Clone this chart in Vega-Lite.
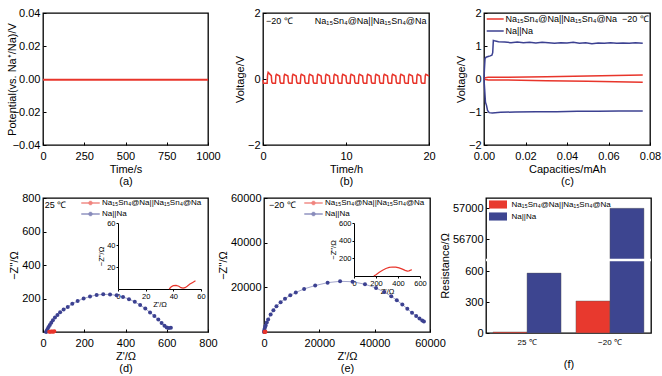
{
  "$schema": "https://vega.github.io/schema/vega-lite/v6.json",
  "padding": {"left": 5, "top": 6, "right": 5, "bottom": 5},
  "background": "white",
  "spacing": 4,
  "resolve": {"scale": {"color": "independent"}, "legend": {"color": "independent"}},
  "vconcat": [
    {
      "bounds": "flush",
      "spacing": 55,
      "resolve": {"scale": {"color": "independent"}, "legend": {"color": "independent"}},
      "hconcat": [
        {
          "width": 165,
          "height": 132,
          "data": {"values": [{"t": 0, "p": -0.0004}, {"t": 500, "p": -0.0004}, {"t": 1000, "p": -0.0004}]},
          "mark": {"type": "line", "color": "#e8352b", "strokeWidth": 2},
          "encoding": {
            "x": {"field": "t", "type": "quantitative", "scale": {"domain": [0, 1000], "nice": false}, "axis": {"values": [0, 250, 500, 750, 1000], "format": "d", "title": ["Time/s", "(a)"]}},
            "y": {"field": "p", "type": "quantitative", "scale": {"domain": [-0.04, 0.04], "nice": false, "zero": false}, "axis": {"values": [-0.04, -0.02, 0, 0.02, 0.04], "format": ".2f", "title": "Potential(vs. Na⁺/Na)/V", "titlePadding": -5}}
          }
        },
        {
          "width": 166,
          "height": 132,
          "layer": [
            {
              "data": {"values": [
                {"t": 0, "v": -0.03}, {"t": 0.06, "v": -0.13},
                {"t": 0.5, "v": -0.13}, {"t": 0.55, "v": 0.12}, {"t": 0.62, "v": 0.2}, {"t": 1.0, "v": 0.1}, {"t": 1.06, "v": -0.09}, {"t": 1.15, "v": -0.13},
                {"t": 1.5, "v": -0.13}, {"t": 1.55, "v": 0.1}, {"t": 1.62, "v": 0.14}, {"t": 2.0, "v": 0.09}, {"t": 2.06, "v": -0.09}, {"t": 2.15, "v": -0.13},
                {"t": 2.5, "v": -0.13}, {"t": 2.55, "v": 0.1}, {"t": 2.62, "v": 0.14}, {"t": 3.0, "v": 0.09}, {"t": 3.06, "v": -0.09}, {"t": 3.15, "v": -0.13},
                {"t": 3.5, "v": -0.13}, {"t": 3.55, "v": 0.1}, {"t": 3.62, "v": 0.14}, {"t": 4.0, "v": 0.09}, {"t": 4.06, "v": -0.09}, {"t": 4.15, "v": -0.13},
                {"t": 4.5, "v": -0.13}, {"t": 4.55, "v": 0.1}, {"t": 4.62, "v": 0.14}, {"t": 5.0, "v": 0.09}, {"t": 5.06, "v": -0.09}, {"t": 5.15, "v": -0.13},
                {"t": 5.5, "v": -0.13}, {"t": 5.55, "v": 0.1}, {"t": 5.62, "v": 0.14}, {"t": 6.0, "v": 0.09}, {"t": 6.06, "v": -0.09}, {"t": 6.15, "v": -0.13},
                {"t": 6.5, "v": -0.13}, {"t": 6.55, "v": 0.1}, {"t": 6.62, "v": 0.14}, {"t": 7.0, "v": 0.09}, {"t": 7.06, "v": -0.09}, {"t": 7.15, "v": -0.13},
                {"t": 7.5, "v": -0.13}, {"t": 7.55, "v": 0.1}, {"t": 7.62, "v": 0.14}, {"t": 8.0, "v": 0.09}, {"t": 8.06, "v": -0.09}, {"t": 8.15, "v": -0.13},
                {"t": 8.5, "v": -0.13}, {"t": 8.55, "v": 0.1}, {"t": 8.62, "v": 0.14}, {"t": 9.0, "v": 0.09}, {"t": 9.06, "v": -0.09}, {"t": 9.15, "v": -0.13},
                {"t": 9.5, "v": -0.13}, {"t": 9.55, "v": 0.1}, {"t": 9.62, "v": 0.14}, {"t": 10.0, "v": 0.09}, {"t": 10.06, "v": -0.09}, {"t": 10.15, "v": -0.13},
                {"t": 10.5, "v": -0.13}, {"t": 10.55, "v": 0.1}, {"t": 10.62, "v": 0.14}, {"t": 11.0, "v": 0.09}, {"t": 11.06, "v": -0.09}, {"t": 11.15, "v": -0.13},
                {"t": 11.5, "v": -0.13}, {"t": 11.55, "v": 0.1}, {"t": 11.62, "v": 0.14}, {"t": 12.0, "v": 0.09}, {"t": 12.06, "v": -0.09}, {"t": 12.15, "v": -0.13},
                {"t": 12.5, "v": -0.13}, {"t": 12.55, "v": 0.1}, {"t": 12.62, "v": 0.14}, {"t": 13.0, "v": 0.09}, {"t": 13.06, "v": -0.09}, {"t": 13.15, "v": -0.13},
                {"t": 13.5, "v": -0.13}, {"t": 13.55, "v": 0.1}, {"t": 13.62, "v": 0.14}, {"t": 14.0, "v": 0.09}, {"t": 14.06, "v": -0.09}, {"t": 14.15, "v": -0.13},
                {"t": 14.5, "v": -0.13}, {"t": 14.55, "v": 0.1}, {"t": 14.62, "v": 0.14}, {"t": 15.0, "v": 0.09}, {"t": 15.06, "v": -0.09}, {"t": 15.15, "v": -0.13},
                {"t": 15.5, "v": -0.13}, {"t": 15.55, "v": 0.1}, {"t": 15.62, "v": 0.14}, {"t": 16.0, "v": 0.09}, {"t": 16.06, "v": -0.09}, {"t": 16.15, "v": -0.13},
                {"t": 16.5, "v": -0.13}, {"t": 16.55, "v": 0.1}, {"t": 16.62, "v": 0.14}, {"t": 17.0, "v": 0.09}, {"t": 17.06, "v": -0.09}, {"t": 17.15, "v": -0.13},
                {"t": 17.5, "v": -0.13}, {"t": 17.55, "v": 0.1}, {"t": 17.62, "v": 0.14}, {"t": 18.0, "v": 0.09}, {"t": 18.06, "v": -0.09}, {"t": 18.15, "v": -0.13},
                {"t": 18.5, "v": -0.13}, {"t": 18.55, "v": 0.1}, {"t": 18.62, "v": 0.14}, {"t": 19.0, "v": 0.09}, {"t": 19.06, "v": -0.09}, {"t": 19.15, "v": -0.13},
                {"t": 19.5, "v": -0.13}, {"t": 19.55, "v": 0.1}, {"t": 19.62, "v": 0.14}, {"t": 20.0, "v": 0.09}
              ]},
              "mark": {"type": "line", "color": "#e8352b", "strokeWidth": 1.5},
              "encoding": {
                "x": {"field": "t", "type": "quantitative", "scale": {"domain": [0, 20], "nice": false}, "axis": {"values": [0, 10, 20], "title": ["Time/h", "(b)"]}},
                "y": {"field": "v", "type": "quantitative", "scale": {"domain": [-2, 2], "nice": false, "zero": false}, "axis": {"values": [-2, -1, 0, 1, 2], "title": "Voltage/V"}}
              }
            },
            {
              "data": {"values": [{}]},
              "mark": {"type": "text", "align": "left", "baseline": "middle", "fontSize": 9, "font": "Liberation Sans", "color": "black"},
              "encoding": {"x": {"datum": 0.35}, "y": {"datum": 1.76}, "text": {"value": "−20 ℃"}}
            },
            {
              "data": {"values": [{}]},
              "mark": {"type": "text", "align": "right", "baseline": "middle", "fontSize": 9, "font": "Liberation Sans", "color": "black"},
              "encoding": {"x": {"datum": 19.7}, "y": {"datum": 1.76}, "text": {"value": "Na₁₅Sn₄@Na||Na₁₅Sn₄@Na"}}
            }
          ]
        },
        {
          "width": 166,
          "height": 132,
          "data": {"values": [
            {"c": 0, "v": 0.03, "s": "A", "g": "r1"}, {"c": 0.002, "v": 0.05, "s": "A", "g": "r1"}, {"c": 0.01, "v": 0.05, "s": "A", "g": "r1"}, {"c": 0.03, "v": 0.07, "s": "A", "g": "r1"}, {"c": 0.05, "v": 0.09, "s": "A", "g": "r1"}, {"c": 0.0765, "v": 0.12, "s": "A", "g": "r1"},
            {"c": 0, "v": -0.01, "s": "A", "g": "r2"}, {"c": 0.002, "v": -0.03, "s": "A", "g": "r2"}, {"c": 0.01, "v": -0.03, "s": "A", "g": "r2"}, {"c": 0.03, "v": -0.05, "s": "A", "g": "r2"}, {"c": 0.05, "v": -0.07, "s": "A", "g": "r2"}, {"c": 0.0765, "v": -0.1, "s": "A", "g": "r2"},
            {"c": 0, "v": 0, "s": "B", "g": "b1"}, {"c": 0.0002, "v": 0.3, "s": "B", "g": "b1"}, {"c": 0.0005, "v": 0.62, "s": "B", "g": "b1"}, {"c": 0.001, "v": 0.66, "s": "B", "g": "b1"}, {"c": 0.002, "v": 0.68, "s": "B", "g": "b1"}, {"c": 0.003, "v": 0.7, "s": "B", "g": "b1"}, {"c": 0.0038, "v": 0.72, "s": "B", "g": "b1"}, {"c": 0.0042, "v": 0.8, "s": "B", "g": "b1"}, {"c": 0.0045, "v": 1.17, "s": "B", "g": "b1"}, {"c": 0.005, "v": 1.16, "s": "B", "g": "b1"}, {"c": 0.007, "v": 1.13, "s": "B", "g": "b1"}, {"c": 0.01, "v": 1.12, "s": "B", "g": "b1"}, {"c": 0.013, "v": 1.1, "s": "B", "g": "b1"}, {"c": 0.016, "v": 1.12, "s": "B", "g": "b1"}, {"c": 0.019, "v": 1.1, "s": "B", "g": "b1"}, {"c": 0.022, "v": 1.11, "s": "B", "g": "b1"}, {"c": 0.025, "v": 1.09, "s": "B", "g": "b1"}, {"c": 0.028, "v": 1.11, "s": "B", "g": "b1"}, {"c": 0.031, "v": 1.1, "s": "B", "g": "b1"}, {"c": 0.034, "v": 1.08, "s": "B", "g": "b1"}, {"c": 0.037, "v": 1.1, "s": "B", "g": "b1"}, {"c": 0.04, "v": 1.09, "s": "B", "g": "b1"}, {"c": 0.043, "v": 1.11, "s": "B", "g": "b1"}, {"c": 0.046, "v": 1.08, "s": "B", "g": "b1"}, {"c": 0.049, "v": 1.1, "s": "B", "g": "b1"}, {"c": 0.052, "v": 1.07, "s": "B", "g": "b1"}, {"c": 0.055, "v": 1.09, "s": "B", "g": "b1"}, {"c": 0.058, "v": 1.08, "s": "B", "g": "b1"}, {"c": 0.061, "v": 1.1, "s": "B", "g": "b1"}, {"c": 0.064, "v": 1.08, "s": "B", "g": "b1"}, {"c": 0.067, "v": 1.09, "s": "B", "g": "b1"}, {"c": 0.07, "v": 1.08, "s": "B", "g": "b1"}, {"c": 0.073, "v": 1.1, "s": "B", "g": "b1"}, {"c": 0.0765, "v": 1.08, "s": "B", "g": "b1"},
            {"c": 0, "v": 0, "s": "B", "g": "b2"}, {"c": 0.0003, "v": -0.3, "s": "B", "g": "b2"}, {"c": 0.0007, "v": -0.7, "s": "B", "g": "b2"}, {"c": 0.0012, "v": -0.8, "s": "B", "g": "b2"}, {"c": 0.0017, "v": -0.95, "s": "B", "g": "b2"}, {"c": 0.0025, "v": -1.02, "s": "B", "g": "b2"}, {"c": 0.004, "v": -1.03, "s": "B", "g": "b2"}, {"c": 0.008, "v": -1.01, "s": "B", "g": "b2"}, {"c": 0.015, "v": -1.0, "s": "B", "g": "b2"}, {"c": 0.025, "v": -0.99, "s": "B", "g": "b2"}, {"c": 0.035, "v": -0.99, "s": "B", "g": "b2"}, {"c": 0.045, "v": -0.98, "s": "B", "g": "b2"}, {"c": 0.055, "v": -0.98, "s": "B", "g": "b2"}, {"c": 0.065, "v": -0.97, "s": "B", "g": "b2"}, {"c": 0.0765, "v": -0.97, "s": "B", "g": "b2"}
          ]},
          "mark": {"type": "line", "strokeWidth": 1.5},
          "encoding": {
            "x": {"field": "c", "type": "quantitative", "scale": {"domain": [0, 0.08], "nice": false}, "axis": {"values": [0, 0.02, 0.04, 0.06, 0.08], "format": ".2f", "title": ["Capacities/mAh", "(c)"]}},
            "y": {"field": "v", "type": "quantitative", "scale": {"domain": [-2, 2], "nice": false, "zero": false}, "axis": {"values": [-2, -1, 0, 1, 2], "title": "Voltage/V"}},
            "detail": {"field": "g"},
            "color": {"field": "s", "type": "nominal", "scale": {"domain": ["A", "B"], "range": ["#e8352b", "#3c4191"]},
              "legend": {"orient": "none", "legendX": 6.2, "legendY": 1, "title": null, "symbolType": "M-2,0H2", "symbolSize": 72, "symbolStrokeWidth": 1.5, "labelFontSize": 9, "rowPadding": 2, "labelOffset": 5.2,
                "labelExpr": "datum.value == 'A' ? 'Na₁₅Sn₄@Na||Na₁₅Sn₄@Na\u00a0\u00a0−20 ℃' : 'Na||Na'"}}
          }
        }
      ]
    },
    {
      "bounds": "flush",
      "spacing": 56,
      "resolve": {"scale": {"color": "independent"}, "legend": {"color": "independent"}},
      "hconcat": [
        {
          "width": 165,
          "height": 134,
          "layer": [
            {
              "data": {"values": [
                {"zr": 15, "zi": 0, "s": "Na||Na"}, {"zr": 18, "zi": 8, "s": "Na||Na"}, {"zr": 22, "zi": 18, "s": "Na||Na"}, {"zr": 27, "zi": 30, "s": "Na||Na"}, {"zr": 33, "zi": 42, "s": "Na||Na"}, {"zr": 40, "zi": 55, "s": "Na||Na"}, {"zr": 48, "zi": 70, "s": "Na||Na"}, {"zr": 58, "zi": 86, "s": "Na||Na"}, {"zr": 70, "zi": 102, "s": "Na||Na"}, {"zr": 83, "zi": 118, "s": "Na||Na"}, {"zr": 100, "zi": 134, "s": "Na||Na"}, {"zr": 120, "zi": 150, "s": "Na||Na"}, {"zr": 142, "zi": 168, "s": "Na||Na"}, {"zr": 168, "zi": 185, "s": "Na||Na"}, {"zr": 197, "zi": 200, "s": "Na||Na"}, {"zr": 228, "zi": 212, "s": "Na||Na"}, {"zr": 260, "zi": 221, "s": "Na||Na"}, {"zr": 292, "zi": 225, "s": "Na||Na"}, {"zr": 325, "zi": 224, "s": "Na||Na"}, {"zr": 357, "zi": 219, "s": "Na||Na"}, {"zr": 388, "zi": 209, "s": "Na||Na"}, {"zr": 417, "zi": 196, "s": "Na||Na"}, {"zr": 445, "zi": 180, "s": "Na||Na"}, {"zr": 471, "zi": 161, "s": "Na||Na"}, {"zr": 496, "zi": 140, "s": "Na||Na"}, {"zr": 519, "zi": 117, "s": "Na||Na"}, {"zr": 540, "zi": 95, "s": "Na||Na"}, {"zr": 559, "zi": 74, "s": "Na||Na"}, {"zr": 575, "zi": 54, "s": "Na||Na"}, {"zr": 589, "zi": 37, "s": "Na||Na"}, {"zr": 600, "zi": 27, "s": "Na||Na"}, {"zr": 610, "zi": 24, "s": "Na||Na"}, {"zr": 620, "zi": 26, "s": "Na||Na"},
                {"zr": 30, "zi": 1, "s": "Na15"}, {"zr": 35, "zi": 2, "s": "Na15"}, {"zr": 40, "zi": 3, "s": "Na15"}, {"zr": 45, "zi": 3, "s": "Na15"}, {"zr": 50, "zi": 2, "s": "Na15"}, {"zr": 55, "zi": 5, "s": "Na15"}
              ]},
              "encoding": {
                "x": {"field": "zr", "type": "quantitative", "scale": {"domain": [0, 800], "nice": false}, "axis": {"values": [0, 200, 400, 600, 800], "title": ["Z'/Ω", "(d)"]}},
                "y": {"field": "zi", "type": "quantitative", "scale": {"domain": [0, 800], "nice": false}, "axis": {"values": [200, 400, 600, 800], "title": "−Z''/Ω"}}
              },
              "layer": [
                {"mark": {"type": "line", "strokeWidth": 0.8, "opacity": 0.6},
                 "encoding": {"color": {"field": "s", "type": "nominal", "scale": {"domain": ["Na15", "Na||Na"], "range": ["#e8352b", "#3c4191"]}}}},
                {"mark": {"type": "point", "filled": true, "size": 16, "opacity": 1},
                 "encoding": {"color": {"field": "s", "type": "nominal", "scale": {"domain": ["Na15", "Na||Na"], "range": ["#e8352b", "#3c4191"]},
                  "legend": {"orient": "none", "legendX": 42.5, "legendY": 0, "title": null, "symbolType": "M-2,-0.1H2V0.1H-2Z M-0.45,0A0.45,0.45 0 1 1 0.45,0A0.45,0.45 0 1 1 -0.45,0Z", "symbolSize": 81, "symbolStrokeWidth": 0.4, "labelFontSize": 8, "rowPadding": 2, "labelOffset": 6.5,
                    "labelExpr": "datum.value == 'Na15' ? 'Na₁₅Sn₄@Na||Na₁₅Sn₄@Na' : 'Na||Na'"}}}},
                {
                  "transform": [{"filter": "datum.zr == 15"}],
                  "mark": {"type": "text", "align": "left", "baseline": "middle", "fontSize": 9, "font": "Liberation Sans", "color": "black"},
                  "encoding": {"x": {"datum": 8}, "y": {"datum": 760}, "text": {"value": "25 ℃"}}
                }
              ]
            },
            {
              "data": {"values": [
                {"zr": 37, "zi": 0}, {"zr": 38.5, "zi": 2}, {"zr": 40, "zi": 3}, {"zr": 42, "zi": 3.3}, {"zr": 44, "zi": 2.5}, {"zr": 45.5, "zi": 1.2}, {"zr": 47, "zi": 0.8}, {"zr": 48.5, "zi": 1.2}, {"zr": 50, "zi": 2.5}, {"zr": 52, "zi": 4.5}, {"zr": 54, "zi": 6}, {"zr": 56, "zi": 7.5}
              ]},
              "mark": {"type": "line", "color": "#e8352b", "strokeWidth": 1.2},
              "encoding": {
                "x": {"field": "zr", "type": "quantitative", "scale": {"domain": [0, 60], "range": [75, 158], "nice": false},
                  "axis": {"orient": "bottom", "offset": -43, "values": [0, 20, 40, 60], "title": "Z'/Ω", "domain": true, "domainColor": "black", "tickSize": 2, "labelPadding": 1, "labelFontSize": 7.5, "titleFontSize": 7.5, "titlePadding": 1}},
                "y": {"field": "zi", "type": "quantitative", "scale": {"domain": [0, 60], "range": [91, 25], "nice": false},
                  "axis": {"orient": "left", "offset": -75, "values": [20, 40, 60], "title": "−Z''/Ω", "domain": true, "domainColor": "black", "tickSize": 2, "labelPadding": 1, "labelFontSize": 7.5, "titleFontSize": 7.5, "titlePadding": 1}}
              }
            }
          ],
          "resolve": {"scale": {"x": "independent", "y": "independent"}, "axis": {"x": "independent", "y": "independent"}}
        },
        {
          "width": 166,
          "height": 134,
          "layer": [
            {
              "data": {"values": [
                {"zr": 0, "zi": 0, "s": "Na||Na"}, {"zr": 80, "zi": 600, "s": "Na||Na"}, {"zr": 200, "zi": 1300, "s": "Na||Na"}, {"zr": 400, "zi": 2200, "s": "Na||Na"}, {"zr": 600, "zi": 2900, "s": "Na||Na"}, {"zr": 1000, "zi": 4200, "s": "Na||Na"}, {"zr": 1500, "zi": 5600, "s": "Na||Na"}, {"zr": 2400, "zi": 7800, "s": "Na||Na"}, {"zr": 3400, "zi": 9700, "s": "Na||Na"}, {"zr": 4500, "zi": 11500, "s": "Na||Na"}, {"zr": 6000, "zi": 13300, "s": "Na||Na"}, {"zr": 7600, "zi": 14900, "s": "Na||Na"}, {"zr": 9500, "zi": 16400, "s": "Na||Na"}, {"zr": 11500, "zi": 17700, "s": "Na||Na"}, {"zr": 14500, "zi": 19300, "s": "Na||Na"}, {"zr": 18500, "zi": 20800, "s": "Na||Na"}, {"zr": 23000, "zi": 22100, "s": "Na||Na"}, {"zr": 27500, "zi": 22700, "s": "Na||Na"}, {"zr": 32000, "zi": 22500, "s": "Na||Na"}, {"zr": 36500, "zi": 21400, "s": "Na||Na"}, {"zr": 40500, "zi": 19700, "s": "Na||Na"}, {"zr": 43500, "zi": 17900, "s": "Na||Na"}, {"zr": 46000, "zi": 16000, "s": "Na||Na"}, {"zr": 48000, "zi": 14200, "s": "Na||Na"}, {"zr": 50000, "zi": 12300, "s": "Na||Na"}, {"zr": 51800, "zi": 10400, "s": "Na||Na"}, {"zr": 53500, "zi": 8600, "s": "Na||Na"}, {"zr": 55000, "zi": 7200, "s": "Na||Na"}, {"zr": 56200, "zi": 6000, "s": "Na||Na"}, {"zr": 57200, "zi": 5200, "s": "Na||Na"}, {"zr": 57800, "zi": 4700, "s": "Na||Na"},
                {"zr": 180, "zi": 0, "s": "Na15"}, {"zr": 300, "zi": 90, "s": "Na15"}, {"zr": 450, "zi": 70, "s": "Na15"}, {"zr": 520, "zi": 70, "s": "Na15"}
              ]},
              "encoding": {
                "x": {"field": "zr", "type": "quantitative", "scale": {"domain": [0, 60000], "nice": false}, "axis": {"values": [0, 20000, 40000, 60000], "format": "d", "title": ["Z'/Ω", "(e)"]}},
                "y": {"field": "zi", "type": "quantitative", "scale": {"domain": [0, 60000], "nice": false}, "axis": {"values": [20000, 40000, 60000], "format": "d", "title": "−Z''/Ω"}}
              },
              "layer": [
                {"mark": {"type": "line", "strokeWidth": 0.8, "opacity": 0.6},
                 "encoding": {"color": {"field": "s", "type": "nominal", "scale": {"domain": ["Na15", "Na||Na"], "range": ["#e8352b", "#3c4191"]}}}},
                {"mark": {"type": "point", "filled": true, "size": 16, "opacity": 1},
                 "encoding": {"color": {"field": "s", "type": "nominal", "scale": {"domain": ["Na15", "Na||Na"], "range": ["#e8352b", "#3c4191"]},
                  "legend": {"orient": "none", "legendX": 44.5, "legendY": 0, "title": null, "symbolType": "M-2,-0.1H2V0.1H-2Z M-0.45,0A0.45,0.45 0 1 1 0.45,0A0.45,0.45 0 1 1 -0.45,0Z", "symbolSize": 81, "symbolStrokeWidth": 0.4, "labelFontSize": 8, "rowPadding": 2, "labelOffset": 6.5,
                    "labelExpr": "datum.value == 'Na15' ? 'Na₁₅Sn₄@Na||Na₁₅Sn₄@Na' : 'Na||Na'"}}}},
                {
                  "transform": [{"filter": "datum.zr == 0"}],
                  "mark": {"type": "text", "align": "left", "baseline": "middle", "fontSize": 9, "font": "Liberation Sans", "color": "black"},
                  "encoding": {"x": {"datum": 1800}, "y": {"datum": 56900}, "text": {"value": "−20 ℃"}}
                }
              ]
            },
            {
              "data": {"values": [
                {"zr": 180, "zi": 0}, {"zr": 200, "zi": 15}, {"zr": 230, "zi": 42}, {"zr": 260, "zi": 66}, {"zr": 290, "zi": 85}, {"zr": 320, "zi": 97}, {"zr": 350, "zi": 102}, {"zr": 380, "zi": 100}, {"zr": 410, "zi": 92}, {"zr": 440, "zi": 78}, {"zr": 465, "zi": 64}, {"zr": 485, "zi": 56}, {"zr": 500, "zi": 58}, {"zr": 515, "zi": 66}, {"zr": 525, "zi": 72}
              ]},
              "mark": {"type": "line", "color": "#e8352b", "strokeWidth": 1.2},
              "encoding": {
                "x": {"field": "zr", "type": "quantitative", "scale": {"domain": [0, 600], "range": [90, 156], "nice": false},
                  "axis": {"orient": "bottom", "offset": -56, "values": [0, 200, 400, 600], "title": "Z'/Ω", "domain": true, "domainColor": "black", "tickSize": 2, "labelPadding": 1, "labelFontSize": 7.5, "titleFontSize": 7.5, "titlePadding": 1}},
                "y": {"field": "zi", "type": "quantitative", "scale": {"domain": [0, 600], "range": [78, 25], "nice": false},
                  "axis": {"orient": "left", "offset": -90, "values": [200, 400, 600], "title": "−Z''/Ω", "domain": true, "domainColor": "black", "tickSize": 2, "labelPadding": 1, "labelFontSize": 7.5, "titleFontSize": 7.5, "titlePadding": 1}}
              }
            }
          ],
          "resolve": {"scale": {"x": "independent", "y": "independent"}, "axis": {"x": "independent", "y": "independent"}}
        },
        {
          "width": 165,
          "height": 135,
          "data": {"values": [
            {"T": "25 ℃", "s": "Na15", "R": 10},
            {"T": "25 ℃", "s": "Na||Na", "R": 580},
            {"T": "−20 ℃", "s": "Na15", "R": 310},
            {"T": "−20 ℃", "s": "Na||Na", "R": 57000}
          ]},
          "layer": [
            {
              "mark": {"type": "bar", "stroke": "#555", "strokeWidth": 0.4},
              "encoding": {
                "x": {"field": "T", "type": "nominal", "sort": ["25 ℃", "−20 ℃"], "scale": {"paddingInner": 0.18, "paddingOuter": 0.085},
                  "axis": {"title": "(f)", "titlePadding": 12, "labelAngle": 0, "labelFontSize": 8, "ticks": false, "labelPadding": 5}},
                "xOffset": {"field": "s", "type": "nominal", "sort": ["Na15", "Na||Na"], "scale": {"paddingInner": 0, "paddingOuter": 0}},
                "y": {"field": "R", "type": "quantitative", "scale": {"type": "linear", "domain": [0, 707, 56500, 57100], "range": [135, 62, 62, 0], "nice": false, "zero": false},
                  "axis": {"values": [0, 300, 600, 56700, 57000], "tickCount": 20, "format": "d", "labelOverlap": false, "title": "Resistance/Ω"}},
                "color": {"field": "s", "type": "nominal", "scale": {"domain": ["Na15", "Na||Na"], "range": ["#e8392e", "#3d4590"]},
                  "legend": {"orient": "none", "legendX": 7.5, "legendY": 2, "title": null, "symbolType": "M-2,-0.9H2V0.9H-2Z", "symbolSize": 81, "symbolStrokeWidth": 0, "labelFontSize": 8, "rowPadding": 3, "labelOffset": 9,
                    "labelExpr": "datum.value == 'Na15' ? 'Na₁₅Sn₄@Na||Na₁₅Sn₄@Na' : 'Na||Na'"}}
              }
            },
            {
              "data": {"values": [{}]},
              "mark": {"type": "rule", "color": "white", "strokeWidth": 2.5},
              "encoding": {"y": {"datum": 56500}}
            }
          ]
        }
      ]
    }
  ],
  "config": {
    "font": "Liberation Sans",
    "view": {"stroke": "#000", "strokeWidth": 1.3},
    "axis": {
      "domain": false, "grid": false,
      "labelFont": "Liberation Sans", "labelFontSize": 11, "labelColor": "#000", "labelFlush": false, "labelOverlap": false,
      "titleFont": "Liberation Sans", "titleFontSize": 11, "titleFontWeight": "normal", "titleColor": "#000", "titleLineHeight": 12,
      "tickColor": "#000", "tickSize": -3, "labelPadding": 6, "titlePadding": 2
    },
    "axisX": {"labelPadding": 8},
    "legend": {"labelFont": "Liberation Sans", "labelColor": "#000", "padding": 0, "labelLimit": 300}
  }
}
